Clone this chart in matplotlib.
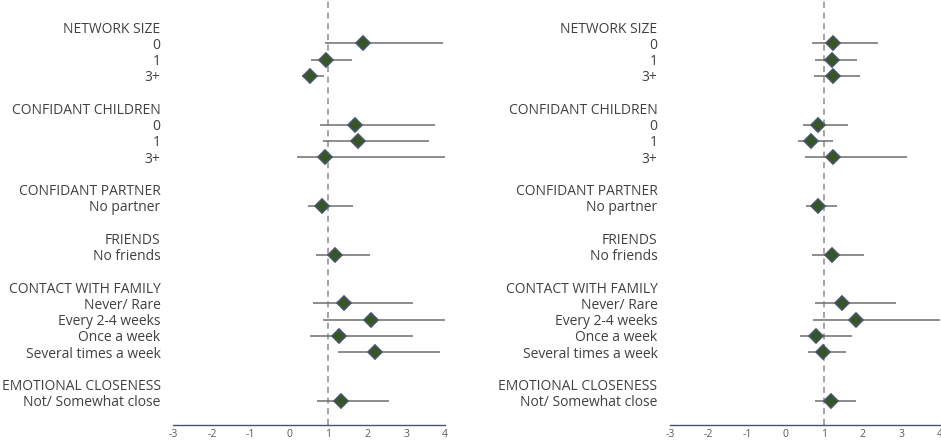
import numpy as np
import matplotlib.pyplot as plt

plt.rcParams['font.family'] = ['Open Sans', 'DejaVu Sans']
plt.rcParams['axes.unicode_minus'] = False

# groups and their categories (reference level omitted)
groups = ["NETWORK SIZE", "CONFIDANT CHILDREN", "CONFIDANT PARTNER",
          "FRIENDS", "CONTACT WITH FAMILY", "EMOTIONAL CLOSENESS"]
items = [["0", "1", "3+"],
         ["0", "1", "3+"],
         ["No partner"],
         ["No friends"],
         ["Never/ Rare", "Every 2-4 weeks", "Once a week", "Several times a week"],
         ["Not/ Somewhat close"]]

# left panel estimates and confidence intervals
left_est = [1.88, 0.93, 0.52, 1.68, 1.76, 0.91, 0.83, 1.16,
            1.40, 2.09, 1.27, 2.19, 1.32]
left_lo = [0.91, 0.55, 0.31, 0.78, 0.86, 0.19, 0.47, 0.68,
           0.60, 0.86, 0.52, 1.24, 0.70]
left_hi = [3.94, 1.60, 0.88, 3.73, 3.60, 4.00, 1.63, 2.06,
           3.17, 3.99, 3.17, 3.86, 2.55]

# right panel estimates and confidence intervals
right_est = [1.22, 1.20, 1.22, 0.83, 0.65, 1.22, 0.83, 1.20,
             1.46, 1.82, 0.78, 0.96, 1.17]
right_lo = [0.68, 0.76, 0.73, 0.45, 0.32, 0.50, 0.52, 0.68,
            0.76, 0.71, 0.37, 0.58, 0.76]
right_hi = [2.39, 1.84, 1.92, 1.61, 1.22, 3.14, 1.33, 2.03,
            2.85, 4.10, 1.71, 1.56, 1.82]

# build row positions: header, items, blank line
tick_pos, tick_lab, item_rows = [], [], []
row = 0
for g, its in zip(groups, items):
    tick_pos.append(row)
    tick_lab.append(g)
    row += 1
    for it in its:
        tick_pos.append(row)
        tick_lab.append(it)
        item_rows.append(row)
        row += 1
    row += 1
item_rows = np.array(item_rows)

fig = plt.figure(figsize=(9.41, 4.40), dpi=100)
ax1 = fig.add_axes([173 / 941, 15 / 440, 272 / 941, 430 / 440])
ax2 = fig.add_axes([670 / 941, 15 / 440, 270 / 941, 430 / 440])

text_col = '#404040'
for ax, est, lo, hi in [(ax1, left_est, left_lo, left_hi),
                        (ax2, right_est, right_lo, right_hi)]:
    est = np.array(est)
    ax.hlines(item_rows, lo, hi, color='#6e6e6e', lw=1.1, zorder=2)
    ax.plot(est, item_rows, 'D', ms=7.5, mfc='#375623', mec='#44546A',
            mew=1.2, zorder=3, clip_on=False)
    ax.axvline(1, ymax=0.99, color='#8c8c8c', lw=1.1, ls=(0, (4, 3)), zorder=1)
    ax.set_xlim(-3, 4)
    ax.set_ylim(24.48, -1.97)
    ax.set_xticks(range(-3, 5))
    ax.set_yticks(tick_pos)
    ax.set_yticklabels(tick_lab)
    ax.tick_params(axis='y', length=0, pad=9, labelsize=10, labelcolor=text_col)
    ax.tick_params(axis='x', length=0, pad=3, labelsize=7.5, labelcolor='#595959')
    for s in ['top', 'left', 'right']:
        ax.spines[s].set_visible(False)
    ax.spines['bottom'].set_color('#44546A')
    ax.spines['bottom'].set_linewidth(1.0)

fig.savefig('out.png', dpi=100)
